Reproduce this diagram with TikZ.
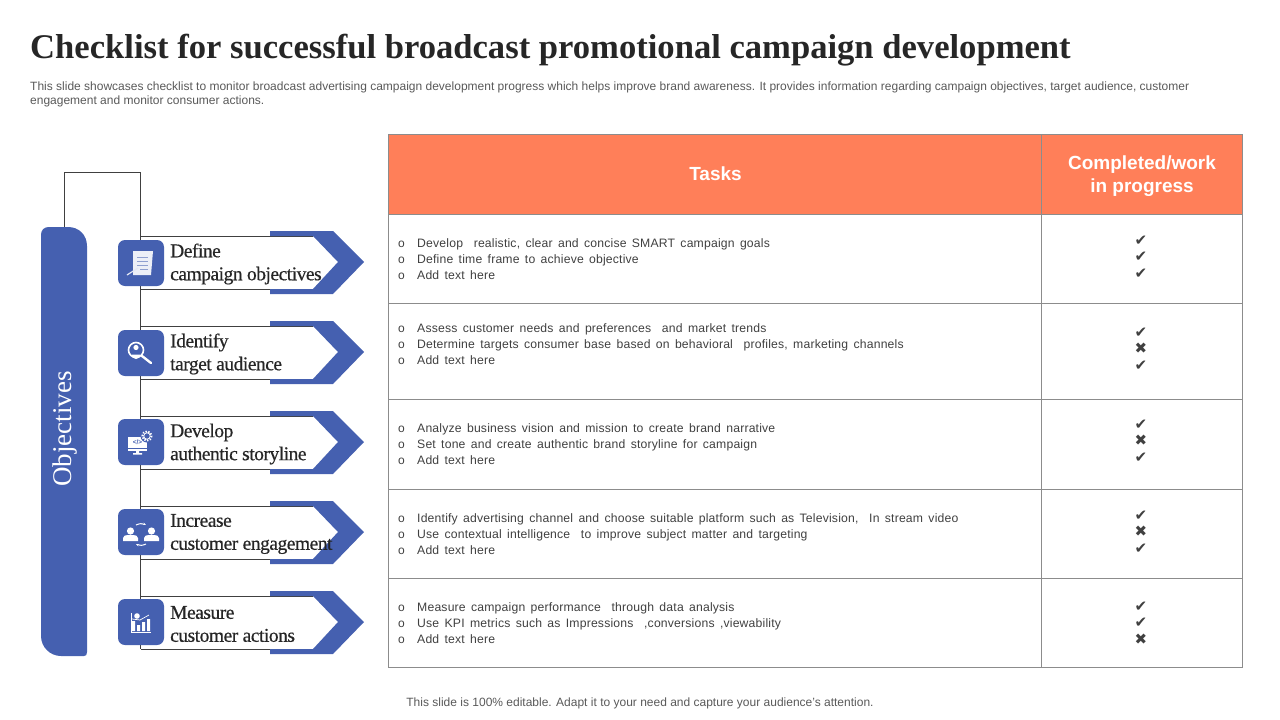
\documentclass[tikz,border=0pt]{standalone}
\usepackage{fontspec}
\setmainfont{Liberation Sans}
\newfontfamily\headfont{Liberation Serif}
\newfontfamily\labelfont[LetterSpace=-2.5,FakeBold=0.5]{Liberation Serif}
\newfontfamily\taskfont[LetterSpace=1.5,WordSpace=1.5]{Liberation Sans}
\newfontfamily\markfont{DejaVu Sans}
\usetikzlibrary{arrows.meta}
\definecolor{barblue}{HTML}{4560B0}
\definecolor{headorange}{HTML}{FF7F59}
\definecolor{gridgray}{HTML}{8C8C8C}
\definecolor{textgray}{HTML}{404040}
\definecolor{notegray}{HTML}{595959}
\tikzset{
  ln/.style={draw=textgray,line width=.9pt},
  grid/.style={draw=gridgray,line width=1pt},
  iconbox/.style={fill=barblue,rounded corners=7pt,minimum width=46pt,minimum height=46pt,inner sep=0pt},
  rowlabel/.style={anchor=west,align=left,inner sep=0pt,font=\labelfont\fontsize{19.5}{23}\selectfont,text=black!85},
  bullet/.style={anchor=west,align=left,inner sep=0pt,font=\fontsize{12}{16}\selectfont,text=textgray},
  task/.style={anchor=west,align=left,inner sep=0pt,font=\taskfont\fontsize{12.2}{16}\selectfont,text=textgray},
  marks/.style={align=center,inner sep=0pt,font=\markfont\fontsize{15}{16.7}\selectfont,text=textgray},
  headtext/.style={align=center,inner sep=0pt,text=white,font=\fontsize{19}{23.5}\selectfont\bfseries},
  chev/.pic={
    \fill[white] (141,5) -- (313,5) -- (338,31) -- (313,58) -- (141,58) -- cycle;
    \draw[ln] (141,5) -- (313,5);
    \draw[ln] (141,58) -- (313,58);
    \fill[barblue] (270,0) -- (333,0) -- (364,31) -- (333,63) -- (270,63) -- (270,58) -- (313,58)
      -- (338,31) -- (313,5) -- (270,5) -- cycle;
  }
}
\begin{document}
\begin{tikzpicture}[x=1pt,y=-1pt]
  \useasboundingbox (0,0) rectangle (1280,720);

  % heading
  \node (title) [anchor=west,inner sep=0pt,font=\headfont\fontsize{34.6}{40}\selectfont\bfseries,text=black!85] at (30,50)
    {Checklist for successful broadcast promotional campaign development};
  \node (intro) [anchor=north west,align=left,inner sep=0pt,font=\fontsize{12}{14}\selectfont,text=notegray] at (30,82)
    {This slide showcases checklist to monitor broadcast advertising campaign development progress which helps improve brand awareness. It provides information regarding campaign objectives, target audience, customer\\
     engagement and monitor consumer actions.};

  % objectives bar and rail
  \fill[barblue] (41,235) .. controls (41,230) and (44,227) .. (49,227) -- (68,227)
    .. controls (79,227) and (87,235) .. (87,246) -- (87,652)
    .. controls (87,655) and (86,656) .. (84,656) -- (61,656)
    .. controls (50,656) and (41,647) .. (41,636) -- cycle;
  \node (obj) [rotate=90,inner sep=0pt,text=white,font=\headfont\fontsize{27}{30}\selectfont] at (65,429) {Objectives};
  \coordinate (bartop) at (64.5,227);
  \coordinate (railtop) at (140.5,172);
  \coordinate (railend) at (140.5,649);
  \draw[ln] (bartop) |- (railtop) -- (railend);

  % arrows
  \pic at (0,231) {chev};
  \pic at (0,321) {chev};
  \pic at (0,411) {chev};
  \pic at (0,501) {chev};
  \pic at (0,591) {chev};

  % icon boxes
  \node (box1) [iconbox] at (141,263) {};
  \node (box2) [iconbox] at (141,353) {};
  \node (box3) [iconbox] at (141,442) {};
  \node (box4) [iconbox] at (141,532) {};
  \node (box5) [iconbox] at (141,622) {};

  % document
  \begin{scope}[shift={(box1.center)}]
    \fill[white!90!barblue] (-8,-12) -- (12,-12) -- (10,12) -- (-8,12) -- cycle;
    \draw[barblue!60,line width=.5pt] (-4,-6) -- (7,-6) (-4,-2) -- (7,-2) (-4,2) -- (7,2) (-1,6) -- (7,6);
    \draw[white!85!barblue,line width=1.2pt] (-14,12) -- (-3,5);
  \end{scope}

  % magnifier
  \begin{scope}[shift={(box2.center)}]
    \draw[white,line width=1.6pt] (-5,-3) circle (7.5);
    \fill[white] (-5,-5.5) circle (2.6);
    \fill[white] (-9.5,1.5) arc[start angle=180,end angle=0,radius=4.5] -- cycle;
    \draw[white,line width=2.4pt,line cap=round] (1,3) -- (10,10);
  \end{scope}

  % monitor
  \begin{scope}[shift={(box3.center)}]
    \fill[white] (-13,-5) rectangle (6,9);
    \fill[barblue] (-13,6) rectangle (6,7);
    \fill[white] (-5,9) rectangle (-2,11) (-8,11) rectangle (1,12.5);
    \node (code) [inner sep=0pt,text=barblue,font=\fontsize{6.5}{7}\selectfont\bfseries] at (-3.5,0) {</>};
    \fill[barblue] (6,-6) circle (6.5);
    \draw[white,line width=2pt,dash pattern=on 1.4pt off 1.4pt] (6,-6) circle (4.6);
    \draw[white,line width=.7pt] (6,-6) circle (3.2);
  \end{scope}

  % people
  \begin{scope}[shift={(box4.center)}]
    \fill[white] (-10.5,-1) circle (3.6);
    \fill[white] (10.5,-1) circle (3.6);
    \fill[white] (-18,9) -- (-18,6) to[out=90,in=180] (-13,3) -- (-8,3) to[out=0,in=90] (-3,6) -- (-3,9) -- cycle;
    \fill[white] (3,9) -- (3,6) to[out=90,in=180] (8,3) -- (13,3) to[out=0,in=90] (18,6) -- (18,9) -- cycle;
    \draw[white,line width=1pt,-{Stealth[length=3pt]}] (-5,-7) to[bend left=25] (5,-7);
    \draw[white,line width=1pt,-{Stealth[length=3pt]}] (5,12) to[bend left=25] (-5,12);
  \end{scope}

  % chart
  \begin{scope}[shift={(box5.center)}]
    \fill[white] (-9,-1) rectangle (-6,9) (-4,3) rectangle (-1,9) (1,0) rectangle (4,9) (6,-3) rectangle (9,9);
    \draw[white,line width=.8pt] (-10,-9) -- (-10,10) -- (10,10);
    \fill[white] (-4,-6) circle (2.8);
    \draw[white,line width=.7pt] (-9,-3) -- (-1,-2) -- (8,-7);
  \end{scope}

  % row labels
  \node (lab1) [rowlabel] at (170,264) {Define\\campaign objectives};
  \node (lab2) [rowlabel] at (170,354) {Identify\\target audience};
  \node (lab3) [rowlabel] at (170,444) {Develop\\authentic storyline};
  \node (lab4) [rowlabel] at (170,534) {Increase\\customer engagement};
  \node (lab5) [rowlabel] at (170,624) {Measure\\customer actions};

  % table
  \fill[headorange] (388.5,134.5) rectangle (1242.5,214.5);
  \draw[grid] (388.5,134.5) rectangle (1242.5,667.5);
  \draw[grid] (1041.5,134.5) -- (1041.5,667.5);
  \draw[grid] (388.5,214.5) -- (1242.5,214.5);
  \draw[grid] (388.5,303.5) -- (1242.5,303.5);
  \draw[grid] (388.5,399.5) -- (1242.5,399.5);
  \draw[grid] (388.5,489.5) -- (1242.5,489.5);
  \draw[grid] (388.5,578.5) -- (1242.5,578.5);
  \node (tasks) [headtext] at (715.5,174) {Tasks};
  \node (state) [headtext] at (1142,176) {Completed/work\\in progress};

  \begin{scope}[every node/.style={bullet}]
    \node (bul1) at (398,260) {o\\o\\o};
    \node (bul2) at (398,345) {o\\o\\o};
    \node (bul3) at (398,445) {o\\o\\o};
    \node (bul4) at (398,535) {o\\o\\o};
    \node (bul5) at (398,624) {o\\o\\o};
  \end{scope}

  \begin{scope}[every node/.style={task}]
    \node (task1) at (417,259.5) {Develop~ realistic, clear and concise SMART campaign goals\\Define time frame to achieve objective\\Add text here};
    \node (task2) at (417,344.5) {Assess customer needs and preferences~ and market trends\\Determine targets consumer base based on behavioral~ profiles, marketing channels\\Add text here};
    \node (task3) at (417,444.5) {Analyze business vision and mission to create brand narrative\\Set tone and create authentic brand storyline for campaign\\Add text here};
    \node (task4) at (417,534.5) {Identify advertising channel and choose suitable platform such as Television,~ In stream video\\Use contextual intelligence~ to improve subject matter and targeting\\Add text here};
    \node (task5) at (417,623.5) {Measure campaign performance~ through data analysis\\Use KPI metrics such as Impressions~ ,conversions ,viewability\\Add text here};
  \end{scope}

  \begin{scope}[every node/.style={marks}]
    \node (mark1) at (1141,257) {✔\\✔\\✔};
    \node (mark2) at (1141,349) {✔\\✖\\✔};
    \node (mark3) at (1141,441) {✔\\✖\\✔};
    \node (mark4) at (1141,532) {✔\\✖\\✔};
    \node (mark5) at (1141,623) {✔\\✔\\✖};
  \end{scope}

  % footer
  \node (foot) [inner sep=0pt,font=\fontsize{12}{14}\selectfont,text=notegray] at (640,703)
    {This slide is 100\% editable. Adapt it to your need and capture your audience’s attention.};
\end{tikzpicture}
\end{document}
